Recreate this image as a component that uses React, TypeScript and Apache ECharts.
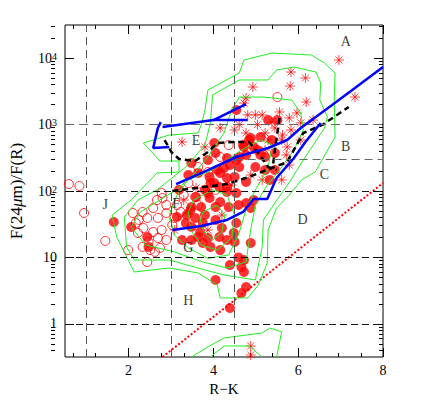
import { useEffect, useRef } from 'react';
import * as echarts from 'echarts';

// ---- axis ticks ----
const xLabelTicks = [2, 4, 6, 8];
const xMinorTicks = [1, 1.5, 2.5, 3, 3.5, 4.5, 5, 5.5, 6.5, 7, 7.5];
const yMajorTicks = [1, 10, 100, 1000, 10000];
const yMinorTicks = [0.4, 0.5, 0.6, 0.7, 0.8, 0.9, 2, 3, 4, 5, 6, 7, 8, 9, 20, 30, 40, 50, 60, 70, 80, 90,
  200, 300, 400, 500, 600, 700, 800, 900, 2000, 3000, 4000, 5000, 6000, 7000, 8000, 9000, 20000, 30000];
const yTickBase: Record<string, string> = { '0': '1', '1': '10', '2': '10', '3': '10', '4': '10' };
const yTickExp: Record<string, string> = { '0': '', '1': '', '2': '2', '3': '3', '4': '4' };

// ---- region boundaries ----
const verticalBounds = [1, 3, 4.5];
const grayBounds = [1000];
const blackBounds = [1, 10, 100];
const bcBound = [[4.5, 300], [8, 300]];
const dottedLine = [[2.8, 0.316], [8, 132]];

// ---- region labels ----
const regionNames = ['A', 'B', 'C', 'D', 'E', 'F', 'G', 'H', 'J'];
const regionPos = [[7.12, 17540], [7.12, 460], [6.62, 180], [6.1, 36.6], [3.59, 586], [3.12, 65.9], [3.41, 13.9], [3.41, 2.28], [1.45, 63.7]];

// ---- contours (green) ----
const contourA = [[2.35, 528], [2.74, 283], [3.19, 283], [3.19, 193], [2.67, 187], [2.06, 73], [1.61, 43.5], [1.72, 20.3], [2.13, 6.03], [2.96, 6.93], [3.64, 5.82], [4.09, 3.84], [4.16, 2.45], [4.81, 2.45], [5.06, 3.84], [5.27, 8.24], [5.29, 25.9], [5.49, 55.5], [5.79, 87], [6.08, 147], [6.4, 193], [6.87, 650], [6.85, 2340], [6.87, 5980], [6.62, 8470], [6.31, 11170], [5.38, 11970], [4.72, 9400], [4.61, 5980], [3.87, 3320], [3.8, 1660], [3.73, 1060], [3.64, 747], [2.96, 697], [2.35, 528]];
const contourB = [[3.98, 2790], [4.61, 4700], [5.29, 4700], [5.49, 6640], [5.9, 7360], [6.42, 6190], [6.53, 4240], [6.51, 2340], [6.69, 1300], [6.62, 889], [6.12, 293], [5.83, 147], [5.45, 65.9], [5.18, 36.6], [5.15, 14.4], [4.99, 4.57], [4.25, 5.43], [3.8, 6.46], [2.96, 9.14], [2.13, 9.14], [1.95, 14.4], [1.9, 40.6], [2.22, 73], [2.67, 104], [3.35, 230], [3.8, 493], [3.93, 1060], [3.98, 2790]];
const contourC = [[4.61, 2600], [5.18, 2600], [5.85, 2340], [6.06, 1500], [6.12, 830], [5.9, 414], [5.56, 207], [5.27, 123], [4.99, 61.5], [4.88, 25.9], [4.77, 8.52], [4.32, 6.93], [3.75, 8.52], [3.08, 12.1], [2.4, 15.4], [2.06, 28.7], [2.28, 48.3], [3.12, 104], [3.48, 163], [3.87, 325], [4.25, 747], [4.43, 1660], [4.61, 2600]];
const contourD = [[3.41, 147], [3.98, 207], [4.66, 414], [5.11, 586], [5.4, 493], [5.27, 207], [4.99, 104], [4.77, 51.8], [4.59, 21.7], [4.36, 10.9], [3.87, 9.66], [3.41, 13.9], [3.08, 21.7], [2.96, 43.5], [3.14, 87], [3.41, 147]];
const contourE = [[3.53, 73], [3.98, 104], [4.32, 87], [4.5, 43.5], [4.43, 19.6], [4.09, 12.9], [3.71, 15.4], [3.46, 25.9], [3.41, 48.3], [3.53, 73]];
const contourF = [[3.75, 48.3], [4.09, 61.5], [4.27, 43.5], [4.2, 24.1], [3.98, 18.3], [3.78, 24.1], [3.69, 36.6], [3.75, 48.3]];
const contourBotA = [[3.48, 0.316], [3.87, 0.448], [4.25, 0.612], [5.15, 0.728], [5.33, 0.865], [5.61, 0.753], [5.49, 0.316]];
const contourBotB = [[3.93, 0.316], [4.25, 0.463], [4.84, 0.463], [5.15, 0.316]];

// ---- tracks ----
const blueA = [[2.96, 460], [2.58, 444], [2.69, 889], [2.76, 1090]];
const blueB = [[4.77, 2040], [4.0, 1170], [2.8, 920]];
const blueC = [[4.81, 1170], [4.0, 1170]];
const blueUpper = [[3.12, 127], [3.87, 207], [4.54, 325], [5.29, 444], [5.74, 586], [6.06, 889], [6.8, 1970], [7.37, 3680], [8.0, 7360]];
const blueLower = [[3.03, 25.9], [3.71, 29.7], [4.32, 36.6], [4.7, 48.3], [4.95, 76], [5.27, 76], [5.49, 157], [5.9, 314], [6.17, 547], [6.53, 1060]];
const dashA = [[2.85, 586], [3.01, 386], [3.19, 303], [3.57, 283], [3.87, 386], [4.09, 528], [4.48, 547], [4.84, 547], [5.06, 373], [5.29, 230], [5.49, 207]];
const dashB = [[3.03, 100], [4.32, 127], [4.84, 163], [5.74, 273], [6.12, 747], [6.58, 1000], [7.19, 1840]];
const dashC = [[5.56, 1260], [5.45, 414], [5.4, 230]];

// ---- sources ----
const openCircles = [[0.59, 127], [0.84, 119], [0.95, 46.6], [1.45, 17.7], [2.1, 46.6], [2.33, 48.3], [2.67, 73], [2.8, 78.5], [2.89, 61.5], [2.58, 55.5], [2.44, 39.3], [2.69, 39.3], [2.89, 46.6], [2.17, 33.0], [2.22, 23.3], [2.35, 27.7], [2.58, 24.1], [2.78, 25.9], [2.89, 18.3], [2.69, 19.6], [2.47, 17.1], [2.33, 14.4], [2.51, 12.9], [2.74, 13.9], [2.44, 8.52], [1.99, 12.9], [2.78, 93.3], [2.24, 36.6], [2.62, 12.1], [3.08, 39.3], [3.23, 48.3], [3.03, 30.7], [3.64, 230], [3.87, 193], [3.41, 132], [3.57, 81], [3.64, 61.5], [4.05, 104], [4.36, 493], [4.16, 325], [5.51, 2600], [3.3, 87], [3.14, 61.5]];
const filledCircles = [[4.54, 1660], [5.29, 1170], [5.51, 1170], [4.88, 628], [5.11, 650], [5.38, 586], [4.84, 586], [4.7, 493], [4.95, 460], [5.04, 414], [4.77, 348], [4.61, 325], [5.11, 348], [5.22, 325], [5.45, 373], [4.54, 293], [4.32, 314], [4.39, 246], [4.25, 222], [4.16, 187], [4.61, 230], [4.99, 230], [5.22, 207], [5.45, 207], [5.33, 147], [4.77, 137], [4.02, 132], [4.32, 115], [4.54, 93.3], [4.02, 528], [4.05, 373], [3.87, 293], [4.09, 207], [3.91, 163], [4.32, 157], [4.5, 163], [3.93, 132], [4.14, 115], [3.8, 104], [4.32, 96.6], [3.59, 81], [3.91, 78.5], [4.16, 68.2], [4.36, 57.4], [4.59, 61.5], [4.77, 65.9], [4.95, 73], [3.48, 57.4], [3.71, 57.4], [3.37, 43.5], [3.57, 39.3], [3.8, 43.5], [3.48, 28.7], [3.35, 33.0], [3.69, 24.1], [3.48, 18.3], [3.75, 16.5], [3.93, 14.4], [4.16, 12.9], [3.26, 18.3], [4.88, 55.5], [4.54, 33.0], [4.48, 23.3], [4.5, 17.1], [4.88, 16.5], [4.59, 10], [4.39, 7.69], [4.66, 7.17], [3.19, 104], [3.41, 174], [3.64, 187], [3.48, 264], [3.87, 93.3], [4.05, 57.4], [3.75, 33.0], [4.05, 36.6], [3.64, 20.3], [3.87, 19.6], [4.14, 20.3], [3.46, 51.8], [3.14, 40.6], [4.05, 4.57], [1.65, 34.1], [2.06, 28.7], [2.44, 20.3], [2.47, 14.4], [4.72, 9.14], [4.72, 6.03], [4.77, 3.58], [4.66, 2.91], [4.39, 1.73], [4.72, 460], [4.2, 27.7], [4.32, 18.3]];
const asterisks = [[6.96, 9400], [7.34, 2600], [5.83, 6190], [6.17, 5040], [5.81, 3810], [4.93, 3680], [6.19, 2190], [4.77, 2520], [4.72, 2110], [4.81, 1400], [4.99, 1400], [5.15, 1400], [5.56, 1550], [5.79, 1260], [5.97, 1500], [5.38, 1090], [5.45, 889], [5.63, 697], [5.22, 747], [4.16, 889], [4.61, 1000], [5.61, 586], [6.35, 1170], [6.06, 1060], [5.04, 1000], [5.83, 830], [6.06, 586], [5.29, 586], [4.77, 747], [5.74, 460], [4.5, 830], [3.26, 547], [3.8, 460], [4.88, 0.463], [4.88, 0.339], [5.61, 147], [3.41, 46.6], [4.2, 43.5], [3.87, 25.9], [4.43, 123], [4.88, 174], [5.22, 414], [3.59, 111], [3.08, 25.9], [3.3, 73], [5.79, 246], [5.72, 348], [5.15, 147]];

const SERIF = 'Liberation Serif';
const STAR = 'path://M5 0L5 10M0 5L10 5M1.46 1.46L8.54 8.54M1.46 8.54L8.54 1.46';

export default function App() {
  const ref = useRef<HTMLDivElement>(null);
  useEffect(() => {
    const chart = echarts.init(ref.current!, null, { renderer: 'svg' });
    const gridRect = { left: 51, right: 53, top: 25, bottom: 53 };
    const tick = (vals: number[], len: number) => ({ show: true, inside: true, length: len, customValues: vals, lineStyle: { color: '#000', width: 1 } });
    const xBase = (grid: number, pos: string, vals: number[], len: number) => ({
      type: 'value', gridIndex: grid, position: pos, min: 0.5, max: 8,
      splitLine: { show: false }, axisLine: { show: false }, axisTick: tick(vals, len), axisLabel: { show: false },
    });
    const yBase = (grid: number, pos: string, vals: number[], len: number) => ({
      type: 'log', logBase: 10, gridIndex: grid, position: pos, min: 0.316228, max: 31622.8,
      splitLine: { show: false }, axisLine: { show: false }, axisTick: tick(vals, len), axisLabel: { show: false },
    });
    const xMain: any = xBase(0, 'bottom', xLabelTicks, 9);
    xMain.axisLabel = { show: true, customValues: xLabelTicks, margin: 6, fontFamily: SERIF, fontSize: 14, color: '#000' };
    xMain.name = 'R−K';
    xMain.nameLocation = 'middle';
    xMain.nameGap = 22;
    xMain.nameTextStyle = { fontFamily: SERIF, fontSize: 15, color: '#000' };
    const yMain: any = yBase(0, 'left', yMajorTicks, 9);
    yMain.axisLabel = {
      show: true, customValues: yMajorTicks, margin: 8, fontFamily: SERIF, fontSize: 14, color: '#000',
      formatter: (v: number) => {
        const k = String(Math.round(Math.log10(v)));
        const e = yTickExp[k];
        return e ? `{b|${yTickBase[k]}}{s|${e}}` : `{b|${yTickBase[k] ?? ''}}`;
      },
      rich: {
        b: { fontFamily: SERIF, fontSize: 14, color: '#000', lineHeight: 14, verticalAlign: 'bottom' },
        s: { fontFamily: SERIF, fontSize: 10, color: '#000', lineHeight: 10, verticalAlign: 'top' },
      },
    };
    yMain.name = 'F(24{i|μ}m)/F(R)';
    yMain.nameLocation = 'middle';
    yMain.nameGap = 40;
    yMain.nameTextStyle = { fontFamily: SERIF, fontSize: 17, color: '#000', rich: { i: { fontFamily: SERIF, fontStyle: 'italic', fontSize: 17, color: '#000' } } };

    const line = (data: number[][], color: string, width: number, type: any, z: number) => ({
      type: 'line', data, showSymbol: false, symbol: 'none', silent: true, z,
      lineStyle: { color, width, type }, xAxisIndex: 0, yAxisIndex: 0,
    });
    const contours = [contourA, contourB, contourC, contourD, contourE, contourF, contourBotA, contourBotB];

    chart.setOption({
      animation: false,
      grid: [
        { ...gridRect, show: true, borderColor: '#000', borderWidth: 1, backgroundColor: 'transparent' },
        { ...gridRect, show: false },
      ],
      xAxis: [xMain, xBase(0, 'top', xLabelTicks, 9), xBase(1, 'bottom', xMinorTicks, 4), xBase(1, 'top', xMinorTicks, 4)],
      yAxis: [yMain, yBase(0, 'right', yMajorTicks, 9), yBase(1, 'left', yMinorTicks, 4), yBase(1, 'right', yMinorTicks, 4)],
      series: [
        {
          ...line(dottedLine, '#ff0000', 2, [2, 2], 1),
          markLine: {
            silent: true, symbol: ['none', 'none'], label: { show: false },
            lineStyle: { type: [7, 4], width: 1, color: '#555' },
            data: [
              ...verticalBounds.map((v) => ({ xAxis: v, lineStyle: { color: '#555', type: [8, 5], width: 1 } })),
              ...grayBounds.map((v) => ({ yAxis: v, lineStyle: { color: '#666', type: [9, 5], width: 1.2 } })),
              ...blackBounds.map((v) => ({ yAxis: v, lineStyle: { color: '#111', type: [7, 4], width: 1 } })),
              [{ coord: bcBound[0], lineStyle: { color: '#666', type: [8, 5], width: 1 } }, { coord: bcBound[1] }],
            ],
          },
        },
        {
          type: 'scatter', data: openCircles, symbol: 'circle', symbolSize: 9, z: 2, silent: true,
          itemStyle: { color: 'rgba(255,255,255,0)', borderColor: '#ff0000', borderWidth: 1 },
        },
        {
          type: 'scatter', data: filledCircles, symbol: 'circle', symbolSize: 10, z: 2, silent: true,
          itemStyle: { color: '#ff0000' },
        },
        {
          type: 'scatter', data: asterisks, symbol: STAR, symbolSize: 10, z: 2, silent: true,
          itemStyle: { color: 'rgba(255,0,0,0)', borderColor: '#ff0000', borderWidth: 0.9 },
        },
        ...contours.map((c) => line(c, '#22ee22', 1, 'solid', 3)),
        line(dashA, '#000', 2.5, [6, 4], 4),
        line(dashB, '#000', 2.5, [6, 4], 4),
        line(dashC, '#000', 2.5, [6, 4], 4),
        line(blueA, '#0000ff', 2.5, 'solid', 5),
        line(blueB, '#0000ff', 2.5, 'solid', 5),
        line(blueC, '#0000ff', 2.5, 'solid', 5),
        line(blueUpper, '#0000ff', 2.5, 'solid', 5),
        line(blueLower, '#0000ff', 2.5, 'solid', 5),
        {
          type: 'scatter', z: 6, silent: true, symbolSize: 1, itemStyle: { color: 'rgba(0,0,0,0)' },
          data: regionNames.map((n, i) => ({ name: n, value: regionPos[i] })),
          label: { show: true, position: 'inside', formatter: '{b}', fontFamily: SERIF, fontSize: 14, color: '#000' },
        },
      ],
    });
    return () => chart.dispose();
  }, []);
  return <div ref={ref} style={{ position: 'absolute', left: 0, top: 0, width: 436, height: 410 }} />;
}
